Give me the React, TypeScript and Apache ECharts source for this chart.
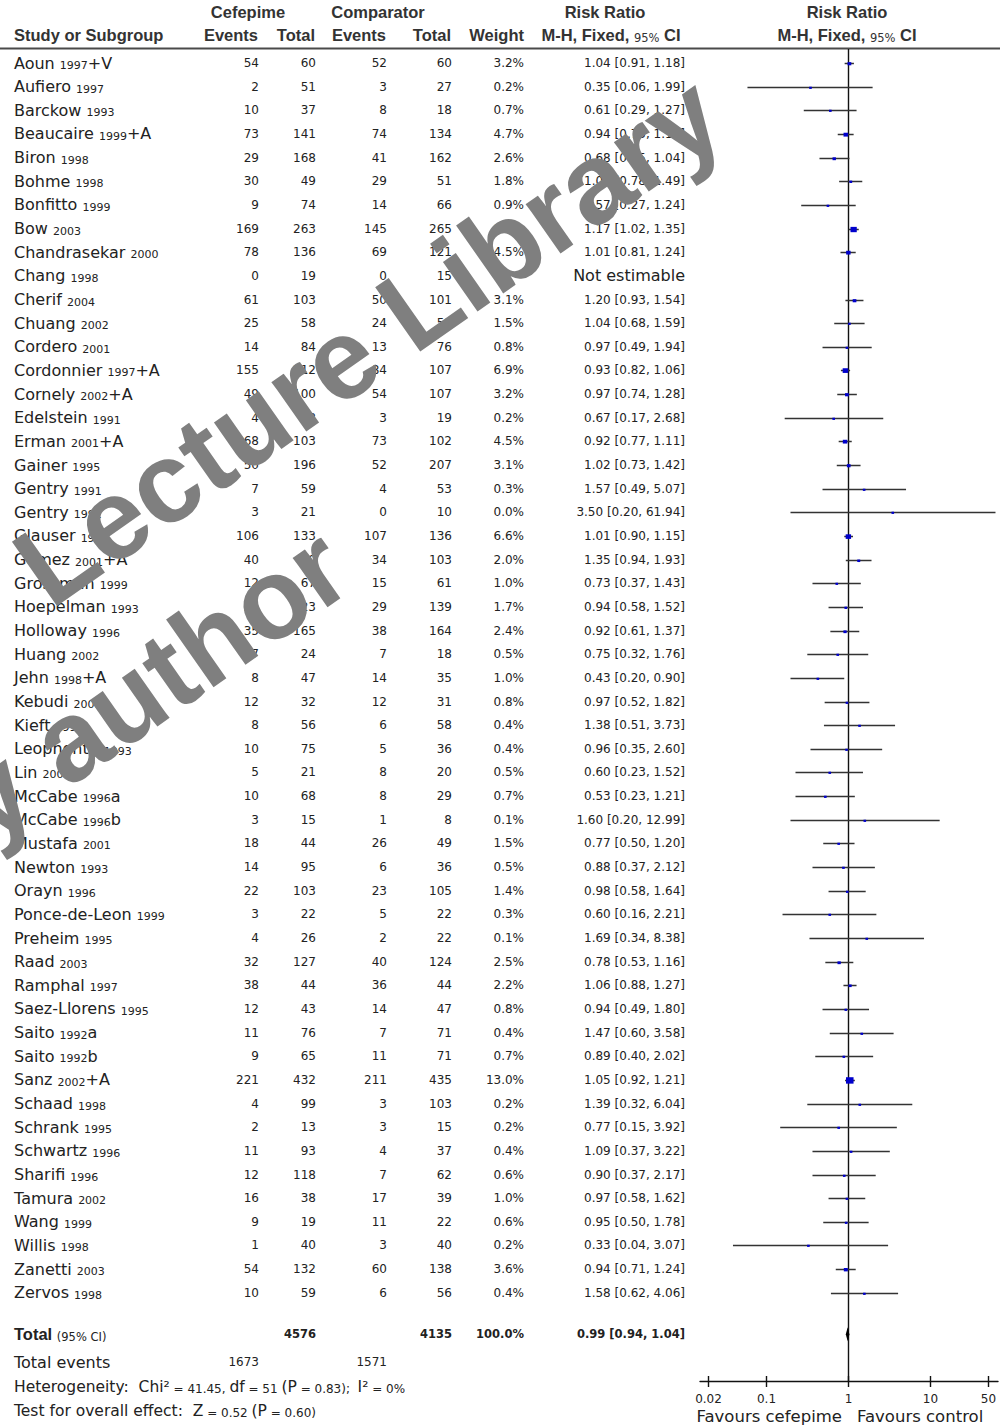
import React, { useEffect, useRef } from 'react';
import * as echarts from 'echarts';

// ---------------- data ----------------
const STUDIES = ['Aoun', 'Aufiero', 'Barckow', 'Beaucaire', 'Biron', 'Bohme', 'Bonfitto', 'Bow', 'Chandrasekar', 'Chang', 'Cherif', 'Chuang', 'Cordero', 'Cordonnier', 'Cornely', 'Edelstein', 'Erman', 'Gainer', 'Gentry', 'Gentry', 'Glauser', 'Gomez', 'Grossman', 'Hoepelman', 'Holloway', 'Huang', 'Jehn', 'Kebudi', 'Kieft', 'Leophonte', 'Lin', 'McCabe', 'McCabe', 'Mustafa', 'Newton', 'Orayn', 'Ponce-de-Leon', 'Preheim', 'Raad', 'Ramphal', 'Saez-Llorens', 'Saito', 'Saito', 'Sanz', 'Schaad', 'Schrank', 'Schwartz', 'Sharifi', 'Tamura', 'Wang', 'Willis', 'Zanetti', 'Zervos'];
const YEARS = ['1997+V', '1997', '1993', '1999+A', '1998', '1998', '1999', '2003', '2000', '1998', '2004', '2002', '2001', '1997+A', '2002+A', '1991', '2001+A', '1995', '1991', '1992', '1997', '2001+A', '1999', '1993', '1996', '2002', '1998+A', '2001', '1994', '1993', '2001', '1996a', '1996b', '2001', '1993', '1996', '1999', '1995', '2003', '1997', '1995', '1992a', '1992b', '2002+A', '1998', '1995', '1996', '1996', '2002', '1999', '1998', '2003', '1998'];
const CEF_EVENTS = [54, 2, 10, 73, 29, 30, 9, 169, 78, 0, 61, 25, 14, 155, 49, 4, 68, 50, 7, 3, 106, 40, 12, 24, 35, 7, 8, 12, 8, 10, 5, 10, 3, 18, 14, 22, 3, 4, 32, 38, 12, 11, 9, 221, 4, 2, 11, 12, 16, 9, 1, 54, 10];
const CEF_TOTAL = [60, 51, 37, 141, 168, 49, 74, 263, 136, 19, 103, 58, 84, 212, 100, 38, 103, 196, 59, 21, 133, 90, 67, 123, 165, 24, 47, 32, 56, 75, 21, 68, 15, 44, 95, 103, 22, 26, 127, 44, 43, 76, 65, 432, 99, 13, 93, 118, 38, 19, 40, 132, 59];
const COMP_EVENTS = [52, 3, 8, 74, 41, 29, 14, 145, 69, 0, 50, 24, 13, 84, 54, 3, 73, 52, 4, 0, 107, 34, 15, 29, 38, 7, 14, 12, 6, 5, 8, 8, 1, 26, 6, 23, 5, 2, 40, 36, 14, 7, 11, 211, 3, 3, 4, 7, 17, 11, 3, 60, 6];
const COMP_TOTAL = [60, 27, 18, 134, 162, 51, 66, 265, 121, 15, 101, 58, 76, 107, 107, 19, 102, 207, 53, 10, 136, 103, 61, 139, 164, 18, 35, 31, 58, 36, 20, 29, 8, 49, 36, 105, 22, 22, 124, 44, 47, 71, 71, 435, 103, 15, 37, 62, 39, 22, 40, 138, 56];
const WEIGHTS: (number | null)[] = [3.2, 0.2, 0.7, 4.7, 2.6, 1.8, 0.9, 8.9, 4.5, null, 3.1, 1.5, 0.8, 6.9, 3.2, 0.2, 4.5, 3.1, 0.3, 0.0, 6.6, 2.0, 1.0, 1.7, 2.4, 0.5, 1.0, 0.8, 0.4, 0.4, 0.5, 0.7, 0.1, 1.5, 0.5, 1.4, 0.3, 0.1, 2.5, 2.2, 0.8, 0.4, 0.7, 13.0, 0.2, 0.2, 0.4, 0.6, 1.0, 0.6, 0.2, 3.6, 0.4];
const RR: (number | null)[] = [1.04, 0.35, 0.61, 0.94, 0.68, 1.08, 0.57, 1.17, 1.01, null, 1.20, 1.04, 0.97, 0.93, 0.97, 0.67, 0.92, 1.02, 1.57, 3.50, 1.01, 1.35, 0.73, 0.94, 0.92, 0.75, 0.43, 0.97, 1.38, 0.96, 0.60, 0.53, 1.60, 0.77, 0.88, 0.98, 0.60, 1.69, 0.78, 1.06, 0.94, 1.47, 0.89, 1.05, 1.39, 0.77, 1.09, 0.90, 0.97, 0.95, 0.33, 0.94, 1.58];
const CI_LOW: (number | null)[] = [0.91, 0.06, 0.29, 0.75, 0.45, 0.78, 0.27, 1.02, 0.81, null, 0.93, 0.68, 0.49, 0.82, 0.74, 0.17, 0.77, 0.73, 0.49, 0.20, 0.90, 0.94, 0.37, 0.58, 0.61, 0.32, 0.20, 0.52, 0.51, 0.35, 0.23, 0.23, 0.20, 0.50, 0.37, 0.58, 0.16, 0.34, 0.53, 0.88, 0.49, 0.60, 0.40, 0.92, 0.32, 0.15, 0.37, 0.37, 0.58, 0.50, 0.04, 0.71, 0.62];
const CI_HIGH: (number | null)[] = [1.18, 1.99, 1.27, 1.17, 1.04, 1.49, 1.24, 1.35, 1.24, null, 1.54, 1.59, 1.94, 1.06, 1.28, 2.68, 1.11, 1.42, 5.07, 61.94, 1.15, 1.93, 1.43, 1.52, 1.37, 1.76, 0.90, 1.82, 3.73, 2.60, 1.52, 1.21, 12.99, 1.20, 2.12, 1.64, 2.21, 8.38, 1.16, 1.27, 1.80, 3.58, 2.02, 1.21, 6.04, 3.92, 3.22, 2.17, 1.62, 1.78, 3.07, 1.24, 4.06];

const TOTAL_N = [4576, 4135];
const TOTAL_EVENTS = [1673, 1571];
const TOTAL_WEIGHT = [100.0];
const TOTAL_RR = [0.99, 0.94, 1.04];
const HET_STATS = ['41.45', '51', '0.83', '0%'];
const OVERALL_STATS = ['0.52', '0.60'];
const X_TICKS = [0.02, 0.1, 1, 10, 50];
const X_TICK_LABELS = ['0.02', '0.1', '1', '10', '50'];

// ---------------- layout ----------------
const W = 1000;
const H = 1425;
const GRID_TOP = 50;
const AXIS_Y = 1381;
const Y_MIN = -0.55;
const Y_MAX = 55.73;
const ROW_TOTAL = 53.75;
const ROW_EVENTS = 54.93;
const ROW_HET = 55.98;
const ROW_TEST = 57.0;
const COL_CEF_E = 259;
const COL_CEF_T = 316;
const COL_COMP_E = 387;
const COL_COMP_T = 452;
const COL_WEIGHT = 524;
const COL_RR = 685;

const BODY = '"DejaVu Sans", sans-serif';
const HEAD = '"Liberation Sans", Arial, sans-serif';
const INK = '#222';

function txt(x: number, y: number, text: string, opts: any = {}) {
  const align = opts.align || 'left';
  const va = opts.va || 'middle';
  return {
    type: 'text',
    x,
    y,
    z: opts.z,
    rotation: opts.rotation,
    style: {
      text,
      fill: opts.fill || INK,
      fontFamily: opts.family || BODY,
      fontSize: opts.size || 12,
      fontWeight: opts.weight || 'normal',
      align,
      textAlign: align,
      verticalAlign: va,
      textVerticalAlign: va,
      rich: opts.rich,
    },
  };
}

const fmt2 = (v: number) => v.toFixed(2);
const rrText = (i: number) =>
  RR[i] == null ? null : `${fmt2(RR[i] as number)} [${fmt2(CI_LOW[i] as number)}, ${fmt2(CI_HIGH[i] as number)}]`;

const NAME_RICH = {
  n: { fontFamily: BODY, fontSize: 16, verticalAlign: 'bottom' },
  y: { fontFamily: BODY, fontSize: 11, verticalAlign: 'bottom' },
};
const HEAD_RICH = {
  b: { fontFamily: HEAD, fontSize: 16.5, fontWeight: 'bold', verticalAlign: 'bottom' },
  s: { fontFamily: BODY, fontSize: 11.5, verticalAlign: 'bottom' },
};
const SUM_RICH = {
  l: { fontFamily: BODY, fontSize: 15.5, verticalAlign: 'bottom' },
  s: { fontFamily: BODY, fontSize: 12, verticalAlign: 'bottom' },
};

function buildOption() {
  const rowIdx = STUDIES.map((_, i) => [1, i]);
  const forestData = STUDIES.map((_, i) => i)
    .filter((i) => RR[i] != null)
    .map((i) => [RR[i], i, CI_LOW[i], CI_HIGH[i], WEIGHTS[i]]);

  const tableSeries = {
    type: 'custom',
    coordinateSystem: 'cartesian2d',
    silent: true,
    clip: false,
    data: rowIdx,
    renderItem: (params: any, api: any) => {
      const i = api.value(1);
      const y = api.coord([1, i])[1];
      const m = YEARS[i].match(/^(\d+)(.*)$/) || ['', YEARS[i], ''];
      const nameText = `{n|${STUDIES[i]} }{y|${m[1]}}` + (m[2] ? `{n|${m[2]}}` : '');
      const children: any[] = [
        txt(14, y, nameText, { rich: NAME_RICH }),
        txt(COL_CEF_E, y, String(CEF_EVENTS[i]), { align: 'right' }),
        txt(COL_CEF_T, y, String(CEF_TOTAL[i]), { align: 'right' }),
        txt(COL_COMP_E, y, String(COMP_EVENTS[i]), { align: 'right' }),
        txt(COL_COMP_T, y, String(COMP_TOTAL[i]), { align: 'right' }),
      ];
      if (WEIGHTS[i] != null) {
        children.push(txt(COL_WEIGHT, y, `${(WEIGHTS[i] as number).toFixed(1)}%`, { align: 'right' }));
      }
      const r = rrText(i);
      children.push(
        r
          ? txt(COL_RR, y, r, { align: 'right' })
          : txt(COL_RR, y, 'Not estimable', { align: 'right', size: 16 })
      );
      return { type: 'group', children };
    },
  };

  const refLineSeries = {
    type: 'custom',
    coordinateSystem: 'cartesian2d',
    silent: true,
    clip: false,
    data: [[1, Y_MIN]],
    renderItem: (params: any, api: any) => {
      const x = Math.round(api.coord([1, Y_MIN])[0]) + 0.5;
      const cs = params.coordSys;
      return {
        type: 'line',
        shape: { x1: x, y1: cs.y - 1, x2: x, y2: cs.y + cs.height },
        style: { stroke: '#111', lineWidth: 1.4 },
      };
    },
  };

  const forestSeries = {
    type: 'custom',
    coordinateSystem: 'cartesian2d',
    silent: true,
    clip: false,
    z: 3,
    data: forestData,
    renderItem: (params: any, api: any) => {
      const rr = api.value(0);
      const i = api.value(1);
      const lo = api.value(2);
      const hi = api.value(3);
      const w = api.value(4);
      const p = api.coord([rr, i]);
      const pl = api.coord([lo, i]);
      const ph = api.coord([hi, i]);
      const y = Math.round(p[1]) + 0.5;
      const s = Math.max(2.6, 2.1 * Math.sqrt(w));
      return {
        type: 'group',
        children: [
          { type: 'line', shape: { x1: pl[0], y1: y, x2: ph[0], y2: y }, style: { stroke: '#333', lineWidth: 1.5 } },
          { type: 'rect', shape: { x: p[0] - s / 2, y: y - s / 2 + 0.5, width: s, height: s * 0.85 }, style: { fill: '#0000cc' } },
        ],
      };
    },
  };

  const diamondSeries = {
    type: 'custom',
    coordinateSystem: 'cartesian2d',
    silent: true,
    clip: false,
    z: 3,
    data: [[TOTAL_RR[0], ROW_TOTAL, TOTAL_RR[1], TOTAL_RR[2]]],
    renderItem: (params: any, api: any) => {
      const y = api.value(1);
      const c = api.coord([api.value(0), y]);
      const l = api.coord([api.value(2), y]);
      const r = api.coord([api.value(3), y]);
      return {
        type: 'polygon',
        shape: { points: [[l[0], c[1]], [c[0], c[1] - 7], [r[0], c[1]], [c[0], c[1] + 7]] },
        style: { fill: '#000' },
      };
    },
  };

  const tickSeries = {
    type: 'custom',
    coordinateSystem: 'cartesian2d',
    silent: true,
    clip: false,
    data: X_TICKS.map((v) => [v, Y_MAX]),
    renderItem: (params: any, api: any) => {
      const x = Math.round(api.coord([api.value(0), Y_MAX])[0]) + 0.5;
      const cs = params.coordSys;
      const y = cs.y + cs.height;
      return {
        type: 'group',
        children: [
          { type: 'line', shape: { x1: x, y1: y - 5, x2: x, y2: y + 6 }, style: { stroke: '#111', lineWidth: 1.4 } },
          txt(x, y + 18, X_TICK_LABELS[params.dataIndex], { align: 'center', size: 12 }),
        ],
      };
    },
  };

  const favoursSeries = {
    type: 'custom',
    coordinateSystem: 'cartesian2d',
    silent: true,
    clip: false,
    data: [[1, Y_MAX]],
    renderItem: (params: any, api: any) => {
      const x = api.coord([1, Y_MAX])[0];
      const cs = params.coordSys;
      const y = cs.y + cs.height + 35;
      return {
        type: 'group',
        children: [
          txt(x - 6, y, 'Favours cefepime', { align: 'right', size: 16.5 }),
          txt(x + 9, y, 'Favours control', { align: 'left', size: 16.5 }),
        ],
      };
    },
  };

  const summarySeries = {
    type: 'custom',
    coordinateSystem: 'cartesian2d',
    silent: true,
    clip: false,
    data: [[1, ROW_TOTAL]],
    renderItem: (params: any, api: any) => {
      const yT = api.coord([1, ROW_TOTAL])[1];
      const yE = api.coord([1, ROW_EVENTS])[1];
      const yH = api.coord([1, ROW_HET])[1];
      const yZ = api.coord([1, ROW_TEST])[1];
      const bold = { align: 'right', weight: 'bold', size: 11.5 };
      return {
        type: 'group',
        children: [
          txt(14, yT, '{b|Total }{s|(95% CI)}', { rich: HEAD_RICH }),
          txt(COL_CEF_T, yT, String(TOTAL_N[0]), bold),
          txt(COL_COMP_T, yT, String(TOTAL_N[1]), bold),
          txt(COL_WEIGHT, yT, `${TOTAL_WEIGHT[0].toFixed(1)}%`, bold),
          txt(COL_RR, yT, `${fmt2(TOTAL_RR[0])} [${fmt2(TOTAL_RR[1])}, ${fmt2(TOTAL_RR[2])}]`, bold),
          txt(14, yE, 'Total events', { size: 16 }),
          txt(COL_CEF_E, yE, String(TOTAL_EVENTS[0]), { align: 'right' }),
          txt(COL_COMP_E, yE, String(TOTAL_EVENTS[1]), { align: 'right' }),
          txt(
            14,
            yH,
            `{l|Heterogeneity:  Chi²}{s| = ${HET_STATS[0]}, }{l|df}{s| = ${HET_STATS[1]} }{l|(P}{s| = ${HET_STATS[2]});  }{l|I²}{s| = ${HET_STATS[3]}}`,
            { rich: SUM_RICH }
          ),
          txt(
            14,
            yZ,
            `{l|Test for overall effect:  Z}{s| = ${OVERALL_STATS[0]} }{l|(P}{s| = ${OVERALL_STATS[1]})}`,
            { rich: SUM_RICH }
          ),
        ],
      };
    },
  };

  const hb = { family: HEAD, size: 16.5, weight: 'bold', fill: '#333' };
  const header: any[] = [
    txt(248, 12, 'Cefepime', { ...hb, align: 'center' }),
    txt(378, 12, 'Comparator', { ...hb, align: 'center' }),
    txt(605, 12, 'Risk Ratio', { ...hb, align: 'center' }),
    txt(847, 12, 'Risk Ratio', { ...hb, align: 'center' }),
    txt(14, 35, 'Study or Subgroup', { ...hb }),
    txt(258, 35, 'Events', { ...hb, align: 'right' }),
    txt(315, 35, 'Total', { ...hb, align: 'right' }),
    txt(386, 35, 'Events', { ...hb, align: 'right' }),
    txt(451, 35, 'Total', { ...hb, align: 'right' }),
    txt(524, 35, 'Weight', { ...hb, align: 'right' }),
    txt(611, 35, '{b|M-H, Fixed, }{s|95%}{b| CI}', { align: 'center', fill: '#333', rich: HEAD_RICH }),
    txt(847, 35, '{b|M-H, Fixed, }{s|95%}{b| CI}', { align: 'center', fill: '#333', rich: HEAD_RICH }),
    {
      type: 'line',
      shape: { x1: 0, y1: 48.5, x2: W, y2: 48.5 },
      style: { stroke: '#4a4a4a', lineWidth: 2 },
    },
  ];

  const rot = (35 * Math.PI) / 180;
  const wm = { family: HEAD, size: 114, weight: 'bold', fill: '#7f7f7f', align: 'center', rotation: rot, z: 100 };
  const watermark = [
    txt(368, 340, 'Lecture Library', wm),
    txt(122, 703, 'by author', wm),
  ];

  return {
    animation: false,
    backgroundColor: '#ffffff',
    grid: { left: 700, top: GRID_TOP, width: 298, height: AXIS_Y - GRID_TOP, containLabel: false },
    xAxis: {
      type: 'log',
      logBase: 10,
      min: 0.0159,
      max: 66.45,
      axisLine: { show: true, onZero: false, lineStyle: { color: '#111', width: 1.4 } },
      axisTick: { show: false },
      axisLabel: { show: false },
      splitLine: { show: false },
      minorTick: { show: false },
    },
    yAxis: { type: 'value', inverse: true, min: Y_MIN, max: Y_MAX, show: false },
    series: [refLineSeries, forestSeries, diamondSeries, tickSeries, favoursSeries, tableSeries, summarySeries],
    graphic: { elements: [...header, ...watermark] },
  };
}

export default function App() {
  const ref = useRef<HTMLDivElement>(null);
  useEffect(() => {
    document.body.style.margin = '0';
    if (!ref.current) return;
    const chart = echarts.init(ref.current, null, { renderer: 'svg', width: W, height: H });
    chart.setOption(buildOption() as any);
    return () => chart.dispose();
  }, []);
  return <div ref={ref} style={{ width: W, height: H }} />;
}
